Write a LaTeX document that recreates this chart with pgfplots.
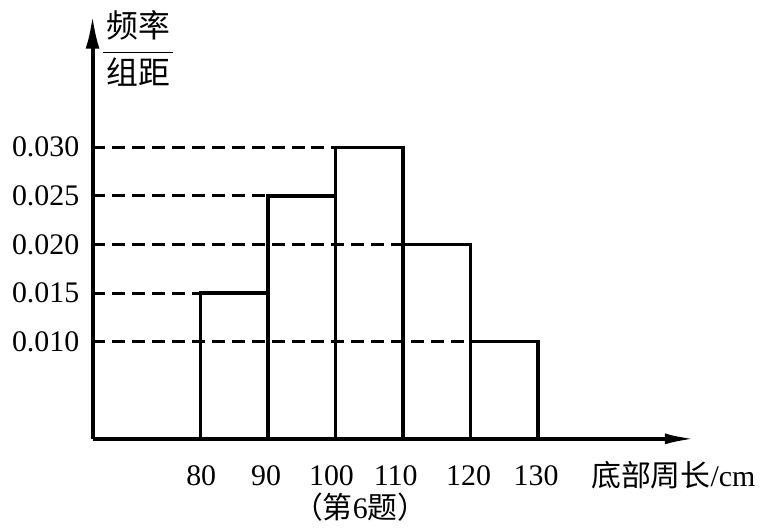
\documentclass[border=0pt]{standalone}
\usepackage{pgfplots}
\pgfplotsset{compat=1.18}
\usetikzlibrary{arrows.meta}
\usepackage{fontspec}
\setmainfont{Liberation Serif}
\newfontfamily\cjk{Noto Sans CJK SC}

\begin{document}
\begin{tikzpicture}[font=\fontsize{15}{18}\selectfont]
\begin{axis}[
  scale only axis,
  width=299.5pt, height=213pt,
  xmin=64, xmax=152.3,
  ymin=0, ymax=0.04362,
  axis x line=bottom, axis y line=left,
  axis line style={line width=2pt},
  x axis line style={-{Latex[length=16pt,width=5.5pt]}, shorten >=-4pt},
  y axis line style={-{Latex[length=17pt,width=7pt]}},
  xtick={80.1,89.7,99.4,108.9,119.7,129.7},
  xticklabels={80,90,100,110,120,130},
  ytick={0.010,0.015,0.020,0.025,0.030},
  yticklabels={0.010,0.015,0.020,0.025,0.030},
  scaled y ticks=false,
  major tick length=0pt,
  xticklabel style={anchor=center, yshift=-18.5pt},
  yticklabel style={anchor=east, inner sep=0pt, xshift=-6.5pt},
  clip=false,
]
% dashed guide lines: from the y axis to the bar at that height
\addplot[black, line width=1.5pt, dash pattern=on 6.5pt off 3.5pt]
  coordinates {(64,0.030) (100,0.030)};
\addplot[black, line width=1.5pt, dash pattern=on 6.5pt off 3.5pt]
  coordinates {(64,0.025) (90,0.025)};
\addplot[black, line width=1.5pt, dash pattern=on 6.5pt off 3.5pt]
  coordinates {(64,0.020) (110,0.020)};
\addplot[black, line width=1.5pt, dash pattern=on 6.5pt off 3.5pt]
  coordinates {(64,0.015) (80,0.015)};
\addplot[black, line width=1.5pt, dash pattern=on 6.5pt off 3.5pt]
  coordinates {(64,0.010) (120,0.010)};
% histogram bars
\addplot[ybar interval, draw=black, fill=none, line width=1.7pt]
  coordinates {(80,0.015) (90,0.025) (100,0.030) (110,0.020) (120,0.010) (130,0.010)};
\end{axis}
\node at (23pt,196pt) {\fontsize{16}{19}\selectfont$\displaystyle\frac{\hbox{\kern1.5pt\cjk 频率\kern1.5pt}}{\hbox{\kern1.5pt\cjk 组距\kern1.5pt}}$};
\node[anchor=west] at (247pt,-18.5pt) {{\cjk 底部周长}/cm};
\node at (134.5pt,-34.5pt) {{\cjk （第}6{\cjk 题）}};
\path (-46.5pt,-46pt) rectangle (334.5pt,220.5pt);
\end{tikzpicture}
\end{document}
